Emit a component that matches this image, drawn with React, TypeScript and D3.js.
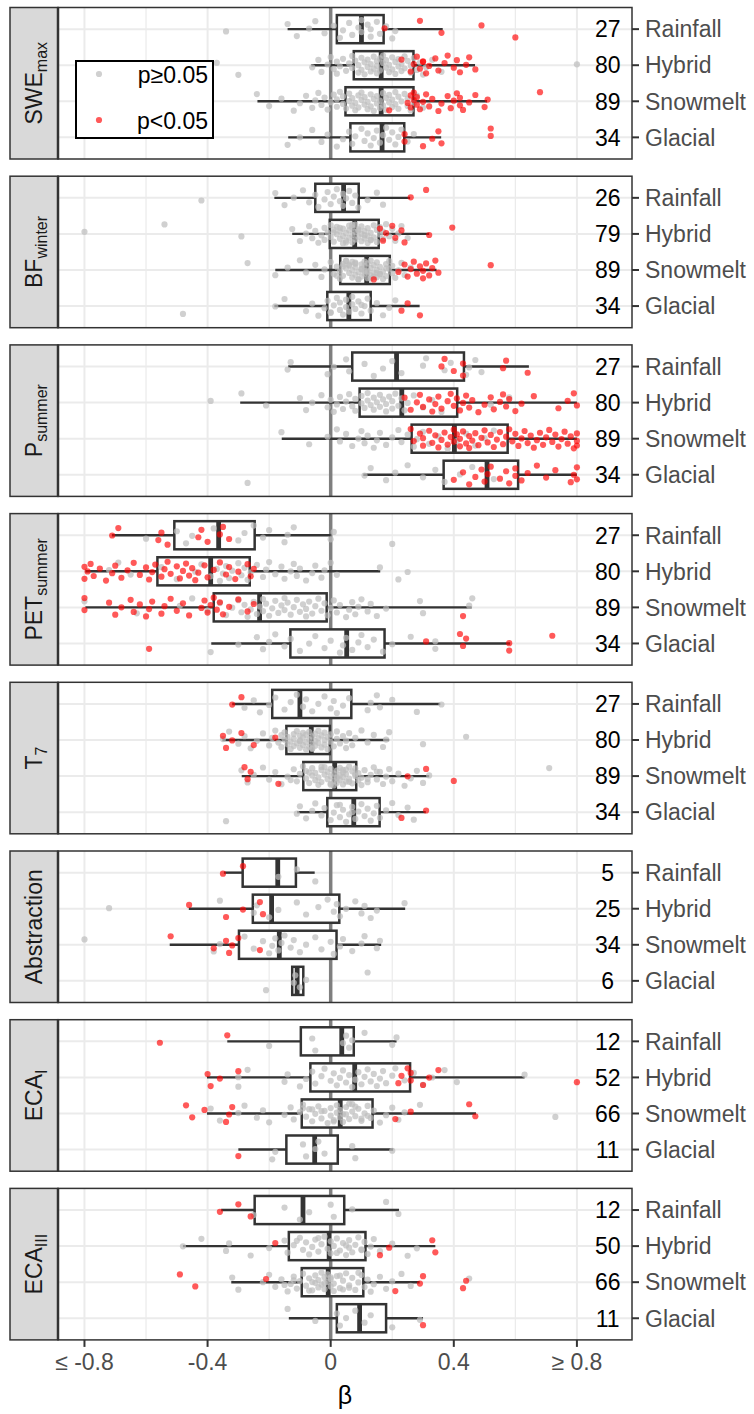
import * as React from "react";
import * as d3 from "d3";

// ---- data ----
const regimes = ["Rainfall", "Hybrid", "Snowmelt", "Glacial"];
const varNames = ["SWE", "BF", "P", "PET", "T", "Abstraction", "ECA", "ECA"];
const varSubs = ["max", "winter", "summer", "summer", "7", "", "I", "III"];
const counts = [
  [27, 80, 89, 34],
  [26, 79, 89, 34],
  [27, 80, 89, 34],
  [27, 80, 89, 34],
  [27, 80, 89, 34],
  [5, 25, 34, 6],
  [12, 52, 66, 11],
  [12, 50, 66, 11],
];
// [whisker low, q1, median, q3, whisker high]
const boxStats = [
  [[-0.14, 0.02, 0.1, 0.172, 0.364], [-0.063, 0.075, 0.164, 0.269, 0.469], [-0.238, 0.048, 0.164, 0.269, 0.508], [-0.138, 0.064, 0.167, 0.239, 0.359]],
  [[-0.183, -0.05, 0.042, 0.091, 0.258], [-0.125, -0.003, 0.078, 0.156, 0.32], [-0.18, 0.031, 0.117, 0.192, 0.344], [-0.183, -0.011, 0.059, 0.13, 0.289]],
  [[-0.138, 0.07, 0.214, 0.433, 0.644], [-0.294, 0.094, 0.231, 0.411, 0.8], [-0.159, 0.263, 0.402, 0.575, 0.8], [0.106, 0.367, 0.508, 0.609, 0.8]],
  [[-0.711, -0.508, -0.364, -0.247, 0.0], [-0.797, -0.563, -0.39, -0.263, 0.161], [-0.797, -0.38, -0.231, -0.013, 0.458], [-0.388, -0.131, 0.052, 0.175, 0.583]],
  [[-0.32, -0.19, -0.1, 0.067, 0.356], [-0.352, -0.144, -0.063, -0.003, 0.19], [-0.289, -0.089, 0.013, 0.083, 0.32], [-0.109, -0.011, 0.075, 0.159, 0.309]],
  [[-0.347, -0.286, -0.172, -0.113, -0.052], [-0.461, -0.253, -0.192, 0.028, 0.242], [-0.523, -0.298, -0.167, 0.019, 0.164], [-0.125, -0.125, -0.109, -0.089, -0.089]],
  [[-0.336, -0.097, 0.036, 0.075, 0.214], [-0.402, -0.066, 0.078, 0.258, 0.63], [-0.402, -0.094, 0.031, 0.136, 0.472], [-0.3, -0.144, -0.052, 0.023, 0.203]],
  [[-0.356, -0.247, -0.09, 0.044, 0.222], [-0.48, -0.136, -0.005, 0.113, 0.34], [-0.323, -0.094, -0.008, 0.106, 0.289], [-0.136, 0.02, 0.094, 0.18, 0.3]],
];

// beta per catchment, p >= 0.05
const greyPts: number[][][] = [
  [
    [-0.34, -0.14, -0.11, -0.07, -0.05, -0.02, 0.01, 0.03, 0.04, 0.06, 0.07, 0.09, 0.1, 0.1, 0.12, 0.13, 0.13, 0.15, 0.16, 0.18, 0.2, 0.21],
    [-0.37, -0.3, -0.06, -0.04, -0.03, -0.01, 0.0, 0.01, 0.02, 0.02, 0.03, 0.04, 0.05, 0.06, 0.07, 0.07, 0.08, 0.09, 0.09, 0.1, 0.1, 0.11, 0.11, 0.12, 0.12, 0.13, 0.13, 0.14, 0.14, 0.15, 0.15, 0.15, 0.16, 0.16, 0.17, 0.17, 0.18, 0.18, 0.19, 0.19, 0.2, 0.2, 0.21, 0.21, 0.22, 0.22, 0.23, 0.23, 0.24, 0.24, 0.25, 0.26, 0.26, 0.27, 0.28, 0.29, 0.3, 0.31, 0.33, 0.36, 0.8],
    [-0.24, -0.2, -0.16, -0.12, -0.1, -0.08, -0.06, -0.05, -0.04, -0.03, -0.02, -0.01, 0.0, 0.01, 0.02, 0.02, 0.03, 0.04, 0.04, 0.05, 0.06, 0.06, 0.07, 0.07, 0.08, 0.08, 0.09, 0.09, 0.1, 0.1, 0.11, 0.11, 0.12, 0.12, 0.13, 0.13, 0.14, 0.14, 0.15, 0.15, 0.16, 0.16, 0.17, 0.17, 0.18, 0.18, 0.19, 0.19, 0.2, 0.2, 0.21, 0.21, 0.22, 0.22, 0.23, 0.24, 0.25, 0.25, 0.26, 0.27, 0.28, 0.3],
    [-0.14, -0.1, -0.06, -0.03, -0.01, 0.02, 0.04, 0.06, 0.07, 0.08, 0.1, 0.11, 0.12, 0.13, 0.14, 0.15, 0.16, 0.17, 0.18, 0.19, 0.2, 0.21, 0.22, 0.23, 0.25, 0.27],
  ],
  [
    [-0.42, -0.18, -0.15, -0.12, -0.09, -0.07, -0.05, -0.04, -0.02, -0.01, 0.0, 0.01, 0.02, 0.03, 0.04, 0.04, 0.05, 0.06, 0.07, 0.08, 0.09, 0.12, 0.15, 0.17],
    [-0.8, -0.54, -0.29, -0.125, -0.1, -0.08, -0.07, -0.06, -0.05, -0.04, -0.03, -0.02, -0.02, -0.01, 0.0, 0.0, 0.01, 0.01, 0.02, 0.02, 0.03, 0.03, 0.04, 0.04, 0.04, 0.05, 0.05, 0.06, 0.06, 0.06, 0.07, 0.07, 0.07, 0.08, 0.08, 0.08, 0.09, 0.09, 0.1, 0.1, 0.1, 0.11, 0.11, 0.12, 0.12, 0.12, 0.13, 0.13, 0.14, 0.14, 0.15, 0.15, 0.16, 0.16, 0.17, 0.17, 0.18, 0.19, 0.2, 0.21, 0.22, 0.23, 0.25, 0.09, 0.05, 0.11, 0.03, 0.13, 0.01, 0.07],
    [-0.27, -0.18, -0.14, -0.1, -0.08, -0.05, -0.03, -0.02, 0.0, 0.01, 0.02, 0.03, 0.03, 0.04, 0.04, 0.05, 0.05, 0.06, 0.06, 0.07, 0.07, 0.08, 0.08, 0.08, 0.09, 0.09, 0.1, 0.1, 0.1, 0.11, 0.11, 0.11, 0.12, 0.12, 0.12, 0.13, 0.13, 0.13, 0.14, 0.14, 0.15, 0.15, 0.15, 0.16, 0.16, 0.17, 0.17, 0.18, 0.18, 0.19, 0.19, 0.2, 0.2, 0.21, 0.22, 0.23, 0.24, 0.26, 0.09, 0.12, 0.06, 0.14, 0.1, 0.07, 0.16, 0.04, 0.13, 0.11, 0.08, 0.02, 0.18, 0.05, 0.15],
    [-0.48, -0.18, -0.15, -0.08, -0.06, -0.04, -0.02, -0.01, 0.0, 0.01, 0.02, 0.03, 0.03, 0.04, 0.05, 0.05, 0.06, 0.07, 0.07, 0.08, 0.09, 0.1, 0.11, 0.12, 0.13, 0.15, 0.17, 0.19, 0.21, 0.0, 0.1],
  ],
  [
    [-0.14, -0.13, -0.01, 0.01, 0.05, 0.06, 0.11, 0.14, 0.17, 0.2, 0.23, 0.3, 0.31, 0.37, 0.39, 0.44, 0.45, 0.47, 0.49],
    [-0.39, -0.29, -0.21, -0.1, -0.08, -0.06, -0.03, -0.01, 0.0, 0.01, 0.02, 0.03, 0.04, 0.05, 0.06, 0.07, 0.08, 0.08, 0.1, 0.1, 0.11, 0.12, 0.12, 0.13, 0.14, 0.14, 0.15, 0.16, 0.16, 0.17, 0.18, 0.18, 0.19, 0.2, 0.2, 0.21, 0.22, 0.23, 0.24, 0.25, 0.27, 0.3, 0.33, 0.36, 0.52, 0.58],
    [-0.16, -0.07, -0.01, 0.02, 0.03, 0.05, 0.07, 0.09, 0.1, 0.11, 0.12, 0.14, 0.15, 0.16, 0.18, 0.2, 0.22, 0.23, 0.25, 0.27, 0.28, 0.3, 0.32, 0.35, 0.38, 0.41, 0.44, 0.47, 0.5, 0.53],
    [-0.27, 0.11, 0.13, 0.18, 0.21, 0.25, 0.3, 0.34, 0.37, 0.42, 0.46, 0.53],
  ],
  [
    [-0.6, -0.5, -0.47, -0.45, -0.38, -0.3, -0.28, -0.25, -0.22, -0.2, -0.15, -0.14, -0.12, 0.0, 0.01, 0.2],
    [-0.72, -0.69, -0.65, -0.55, -0.5, -0.44, -0.42, -0.39, -0.37, -0.36, -0.35, -0.34, -0.33, -0.32, -0.3, -0.29, -0.28, -0.27, -0.26, -0.24, -0.22, -0.21, -0.2, -0.18, -0.16, -0.15, -0.13, -0.12, -0.11, -0.1, -0.08, -0.06, -0.05, -0.03, -0.02, 0.0, 0.02, 0.16, 0.22, 0.25],
    [-0.8, -0.63, -0.49, -0.45, -0.4, -0.36, -0.34, -0.32, -0.3, -0.29, -0.28, -0.27, -0.26, -0.25, -0.24, -0.23, -0.22, -0.22, -0.21, -0.2, -0.19, -0.18, -0.17, -0.16, -0.15, -0.15, -0.14, -0.13, -0.12, -0.11, -0.1, -0.09, -0.08, -0.08, -0.07, -0.06, -0.05, -0.04, -0.03, -0.02, -0.01, 0.0, 0.01, 0.02, 0.03, 0.05, 0.06, 0.07, 0.08, 0.09, 0.1, 0.12, 0.13, 0.15, 0.18, 0.29, 0.3, 0.45, 0.46],
    [-0.39, -0.3, -0.24, -0.22, -0.2, -0.18, -0.15, -0.13, -0.1, -0.07, -0.05, -0.02, 0.0, 0.03, 0.04, 0.05, 0.07, 0.09, 0.1, 0.12, 0.14, 0.17, 0.2, 0.26, 0.34, 0.34],
  ],
  [
    [-0.28, -0.25, -0.23, -0.2, -0.18, -0.15, -0.13, -0.11, -0.09, -0.08, -0.06, -0.04, -0.02, 0.0, 0.01, 0.02, 0.04, 0.06, 0.12, 0.13, 0.15, 0.16, 0.2, 0.28, 0.36],
    [-0.35, -0.33, -0.3, -0.28, -0.26, -0.24, -0.22, -0.2, -0.19, -0.18, -0.17, -0.16, -0.16, -0.15, -0.15, -0.14, -0.14, -0.13, -0.13, -0.12, -0.12, -0.12, -0.11, -0.11, -0.1, -0.1, -0.1, -0.09, -0.09, -0.09, -0.08, -0.08, -0.08, -0.07, -0.07, -0.07, -0.06, -0.06, -0.06, -0.05, -0.05, -0.05, -0.04, -0.04, -0.04, -0.03, -0.03, -0.02, -0.02, -0.02, -0.01, -0.01, 0.0, 0.0, 0.01, 0.02, 0.02, 0.03, 0.04, 0.05, 0.05, 0.06, 0.07, 0.08, 0.1, 0.12, 0.14, 0.17, 0.18, 0.19, 0.3, 0.44, -0.06, -0.1],
    [-0.29, -0.27, -0.25, -0.22, -0.2, -0.18, -0.16, -0.14, -0.12, -0.11, -0.1, -0.09, -0.08, -0.08, -0.07, -0.06, -0.06, -0.05, -0.05, -0.04, -0.04, -0.03, -0.03, -0.02, -0.02, -0.01, -0.01, 0.0, 0.0, 0.0, 0.01, 0.01, 0.01, 0.02, 0.02, 0.02, 0.03, 0.03, 0.03, 0.04, 0.04, 0.04, 0.05, 0.05, 0.05, 0.06, 0.06, 0.07, 0.07, 0.08, 0.08, 0.09, 0.09, 0.1, 0.1, 0.11, 0.12, 0.13, 0.14, 0.15, 0.16, 0.17, 0.18, 0.19, 0.2, 0.22, 0.24, 0.26, 0.28, 0.3, 0.32, 0.71, -0.13, -0.07, 0.0, 0.02, 0.04, 0.06, 0.08, -0.03, 0.12, 0.15],
    [-0.34, -0.11, -0.1, -0.08, -0.06, -0.05, -0.03, -0.02, 0.0, 0.01, 0.02, 0.03, 0.04, 0.05, 0.06, 0.07, 0.08, 0.09, 0.1, 0.11, 0.12, 0.13, 0.14, 0.15, 0.16, 0.18, 0.2, 0.22, 0.25, 0.27, 0.07, 0.03],
  ],
  [
    [-0.17, -0.11, -0.05],
    [-0.72, -0.36, -0.25, -0.24, -0.2, -0.17, -0.11, -0.08, -0.04, -0.01, 0.01, 0.02, 0.03, 0.05, 0.08, 0.1, 0.11, 0.13, 0.15, 0.24],
    [-0.8, -0.38, -0.36, -0.28, -0.25, -0.22, -0.2, -0.19, -0.18, -0.17, -0.16, -0.15, -0.13, -0.12, -0.1, -0.08, -0.05, -0.03, 0.0, 0.01, 0.03, 0.04, 0.07, 0.1, 0.11, 0.15, 0.16],
    [-0.21, -0.12, -0.115, -0.1, -0.08, 0.12],
  ],
  [
    [-0.2, -0.06, -0.05, 0.04, 0.05, 0.06, 0.07, 0.11, 0.2, 0.214],
    [-0.3, -0.27, -0.15, -0.14, -0.1, -0.08, -0.06, -0.05, -0.03, -0.02, 0.0, 0.01, 0.02, 0.03, 0.04, 0.05, 0.06, 0.07, 0.08, 0.09, 0.1, 0.11, 0.12, 0.13, 0.14, 0.15, 0.16, 0.17, 0.18, 0.2, 0.21, 0.24, 0.27, 0.3, 0.33, 0.37, 0.41, 0.63, -0.3],
    [-0.39, -0.36, -0.3, -0.28, -0.24, -0.22, -0.2, -0.15, -0.13, -0.12, -0.1, -0.09, -0.08, -0.07, -0.06, -0.05, -0.04, -0.03, -0.02, -0.01, 0.0, 0.0, 0.01, 0.02, 0.02, 0.03, 0.03, 0.04, 0.05, 0.05, 0.06, 0.07, 0.07, 0.08, 0.09, 0.1, 0.11, 0.12, 0.13, 0.14, 0.16, 0.18, 0.2, 0.22, 0.24, 0.29, 0.73, -0.06, 0.01, 0.04, 0.08, 0.1, -0.03, 0.06, 0.12, -0.09],
    [-0.19, -0.18, -0.09, -0.08, -0.05, -0.04, -0.02, 0.07, 0.08, 0.2],
  ],
  [
    [-0.25, -0.15, -0.1, -0.07, 0.0, 0.01, 0.07, 0.18, 0.22],
    [-0.48, -0.42, -0.34, -0.33, -0.26, -0.2, -0.15, -0.14, -0.12, -0.1, -0.09, -0.08, -0.07, -0.06, -0.05, -0.04, -0.03, -0.02, -0.01, 0.0, 0.0, 0.01, 0.02, 0.03, 0.04, 0.05, 0.06, 0.06, 0.07, 0.08, 0.09, 0.1, 0.11, 0.12, 0.13, 0.14, 0.16, 0.2, 0.25, 0.28, -0.11, 0.02, 0.05, -0.04, 0.1],
    [-0.32, -0.3, -0.22, -0.2, -0.18, -0.16, -0.14, -0.13, -0.12, -0.11, -0.1, -0.09, -0.08, -0.07, -0.06, -0.05, -0.05, -0.04, -0.04, -0.03, -0.03, -0.02, -0.02, -0.01, -0.01, 0.0, 0.0, 0.01, 0.01, 0.02, 0.03, 0.04, 0.05, 0.06, 0.07, 0.08, 0.09, 0.1, 0.11, 0.12, 0.13, 0.14, 0.16, 0.18, 0.2, 0.23, 0.26, 0.45, -0.07, -0.02, 0.03, 0.06, -0.12, 0.09, -0.15, 0.0, 0.04, -0.06],
    [-0.14, -0.05, 0.02, 0.03, 0.05, 0.08, 0.11, 0.13, 0.2, 0.29],
  ],
];

// beta per catchment, p < 0.05
const redPts: number[][][] = [
  [
    [0.175, 0.29, 0.36, 0.49, 0.6],
    [0.23, 0.26, 0.27, 0.28, 0.29, 0.3, 0.31, 0.32, 0.34, 0.35, 0.37, 0.38, 0.4, 0.41, 0.42, 0.44, 0.45, 0.47, 0.3],
    [0.19, 0.25, 0.26, 0.26, 0.27, 0.27, 0.28, 0.28, 0.29, 0.3, 0.31, 0.32, 0.33, 0.35, 0.36, 0.38, 0.39, 0.4, 0.41, 0.42, 0.42, 0.43, 0.45, 0.47, 0.5, 0.51, 0.68],
    [0.24, 0.24, 0.3, 0.33, 0.35, 0.36, 0.52, 0.52],
  ],
  [
    [0.26, 0.31],
    [0.16, 0.17, 0.18, 0.2, 0.21, 0.23, 0.24, 0.32, 0.395],
    [0.14, 0.22, 0.24, 0.25, 0.26, 0.27, 0.28, 0.29, 0.3, 0.3, 0.31, 0.32, 0.33, 0.34, 0.35, 0.52],
    [0.23, 0.25, 0.29],
  ],
  [
    [0.36, 0.37, 0.4, 0.43, 0.43, 0.56, 0.57, 0.64],
    [0.24, 0.26, 0.28, 0.29, 0.3, 0.32, 0.33, 0.34, 0.35, 0.36, 0.38, 0.39, 0.4, 0.41, 0.42, 0.43, 0.44, 0.45, 0.46, 0.48, 0.5, 0.52, 0.53, 0.55, 0.56, 0.57, 0.58, 0.6, 0.62, 0.66, 0.74, 0.77, 0.79, 0.8],
    [0.26, 0.27, 0.29, 0.3, 0.3, 0.32, 0.33, 0.34, 0.35, 0.36, 0.37, 0.38, 0.39, 0.4, 0.4, 0.41, 0.42, 0.42, 0.43, 0.44, 0.45, 0.45, 0.46, 0.47, 0.48, 0.49, 0.5, 0.51, 0.52, 0.53, 0.54, 0.55, 0.56, 0.57, 0.58, 0.59, 0.6, 0.61, 0.62, 0.63, 0.64, 0.65, 0.66, 0.67, 0.68, 0.69, 0.7, 0.71, 0.72, 0.73, 0.74, 0.75, 0.76, 0.77, 0.78, 0.79, 0.8, 0.8, 0.8],
    [0.4, 0.43, 0.45, 0.47, 0.49, 0.5, 0.51, 0.52, 0.55, 0.57, 0.58, 0.6, 0.6, 0.62, 0.64, 0.67, 0.7, 0.73, 0.78, 0.79, 0.8, 0.8],
  ],
  [
    [-0.71, -0.69, -0.56, -0.55, -0.53, -0.43, -0.42, -0.4, -0.36, -0.35, -0.33],
    [-0.8, -0.8, -0.79, -0.78, -0.77, -0.75, -0.73, -0.71, -0.7, -0.68, -0.66, -0.64, -0.62, -0.6, -0.59, -0.58, -0.57, -0.55, -0.54, -0.53, -0.52, -0.5, -0.49, -0.48, -0.47, -0.46, -0.45, -0.44, -0.43, -0.41, -0.4, -0.38, -0.36, -0.34, -0.33, -0.31, -0.3, -0.27, -0.26, -0.25],
    [-0.8, -0.8, -0.72, -0.7, -0.68, -0.65, -0.64, -0.62, -0.6, -0.59, -0.58, -0.55, -0.54, -0.52, -0.5, -0.48, -0.46, -0.42, -0.41, -0.4, -0.39, -0.38, -0.37, -0.36, -0.35, -0.33, -0.3, -0.27, -0.25, 0.43],
    [-0.59, 0.31, 0.42, 0.43, 0.44, 0.58, 0.58, 0.72],
  ],
  [
    [-0.32, -0.29],
    [-0.35, -0.34, -0.32, -0.29, -0.25, -0.18],
    [-0.28, -0.27, -0.26, -0.17, 0.25, 0.31, 0.4],
    [0.23, 0.31],
  ],
  [
    [-0.35, -0.285],
    [-0.46, -0.34, -0.285, -0.23, -0.22],
    [-0.52, -0.38, -0.34, -0.33, -0.32, -0.3, -0.23],
    [],
  ],
  [
    [-0.555, -0.336],
    [-0.4, -0.39, -0.36, -0.3, 0.22, 0.23, 0.25, 0.26, 0.26, 0.3, 0.32, 0.35, 0.8],
    [-0.47, -0.45, -0.41, -0.34, -0.33, -0.32, 0.21, 0.26, 0.45, 0.47],
    [-0.3],
  ],
  [
    [-0.36, -0.3, -0.26],
    [-0.18, 0.16, 0.19, 0.33, 0.34],
    [-0.49, -0.44, -0.21, 0.21, 0.29, 0.3, 0.43, 0.44],
    [0.3],
  ],
];

const xTickValues = [-0.8, -0.4, 0, 0.4, 0.8];
const xTickLabels = ["≤ -0.8", "-0.4", "0", "0.4", "≥ 0.8"];
const xMinorValues = [-0.6, -0.2, 0.2, 0.6];

// ---- layout ----
const W = 754;
const H = 1414;
const FONT = "Liberation Sans, Arial, Helvetica, sans-serif";
const stripX0 = 10;
const panelX0 = 58;
const panelX1 = 632;
const panelTop0 = 7.5;
const panelStep = 168.7;
const panelH = 151.5;

const x = d3.scaleLinear().domain([-0.886, 0.979]).range([panelX0, panelX1]);
const y = d3.scalePoint<string>().domain(regimes).range([0, panelH]).padding(0.6);
const step = y.step();
const boxH = step * 0.78;
const ptR = 3.1;

// deterministic vertical jitter for the points
const jitter = (i: number, seed: number) => {
  const v = ((i + 1) * 0.6180339887 + seed * 0.7548776662) % 1;
  return (v - 0.5) * 2 * step * 0.27;
};

const Panel = ({ p }: { p: number }) => {
  const top = panelTop0 + p * panelStep;
  const cy = (r: string) => top + (y(r) as number);
  return (
    <g>
      <rect x={panelX0} y={top} width={panelX1 - panelX0} height={panelH} fill="#fff" />
      {xMinorValues.map((v) => (
        <line key={"mi" + v} x1={x(v)} x2={x(v)} y1={top} y2={top + panelH} stroke="#ebebeb" strokeWidth={1.2} />
      ))}
      {xTickValues.map((v) => (
        <line key={"ma" + v} x1={x(v)} x2={x(v)} y1={top} y2={top + panelH} stroke="#ebebeb" strokeWidth={2} />
      ))}
      {regimes.map((r) => (
        <line key={"h" + r} x1={panelX0} x2={panelX1} y1={cy(r)} y2={cy(r)} stroke="#ebebeb" strokeWidth={2} />
      ))}
      <line x1={x(0)} x2={x(0)} y1={top} y2={top + panelH} stroke="#7f7f7f" strokeWidth={3.5} />

      {regimes.map((r, ri) => {
        const [lo, q1, med, q3, hi] = boxStats[p][ri];
        const c = cy(r);
        return (
          <g key={"b" + r} stroke="#333" fill="none">
            <line x1={x(lo)} x2={x(q1)} y1={c} y2={c} strokeWidth={2.4} />
            <line x1={x(q3)} x2={x(hi)} y1={c} y2={c} strokeWidth={2.4} />
            <rect x={x(q1)} y={c - boxH / 2} width={x(q3) - x(q1)} height={boxH} fill="#fff" strokeWidth={2.5} />
            <line x1={x(med)} x2={x(med)} y1={c - boxH / 2} y2={c + boxH / 2} strokeWidth={4.8} />
          </g>
        );
      })}

      {regimes.map((r, ri) =>
        greyPts[p][ri].map((v, i) => (
          <circle key={"g" + r + i} cx={x(v)} cy={cy(r) + jitter(i, p * 4 + ri)} r={ptR} fill="#bebebe" fillOpacity={0.72} />
        ))
      )}
      {regimes.map((r, ri) =>
        redPts[p][ri].map((v, i) => (
          <circle key={"r" + r + i} cx={x(v)} cy={cy(r) + jitter(i + 7, p * 4 + ri + 2)} r={ptR} fill="#ff0000" fillOpacity={0.65} />
        ))
      )}

      {regimes.map((r, ri) => (
        <text key={"n" + r} x={x(0.9)} y={cy(r)} dy="0.36em" textAnchor="middle" fontSize={23} fill="#000" fontFamily={FONT}>
          {counts[p][ri]}
        </text>
      ))}

      {/* right axis */}
      {regimes.map((r) => (
        <g key={"t" + r}>
          <line x1={panelX1} x2={panelX1 + 7} y1={cy(r)} y2={cy(r)} stroke="#333" strokeWidth={2} />
          <text x={panelX1 + 13} y={cy(r)} dy="0.36em" fontSize={23} fill="#4d4d4d" fontFamily={FONT}>
            {r}
          </text>
        </g>
      ))}

      <rect x={panelX0} y={top} width={panelX1 - panelX0} height={panelH} fill="none" stroke="#333" strokeWidth={1.5} />

      {/* strip */}
      <rect x={stripX0} y={top} width={panelX0 - stripX0} height={panelH} fill="#d9d9d9" stroke="#333" strokeWidth={1.5} />
      <line x1={panelX0} x2={panelX0} y1={top} y2={top + panelH} stroke="#333" strokeWidth={2.5} />
      <text
        transform={`translate(42,${top + panelH / 2}) rotate(-90)`}
        textAnchor="middle"
        fontSize={23}
        fill="#1a1a1a"
        fontFamily={FONT}
      >
        {varNames[p]}
        {varSubs[p] && (
          <tspan fontSize={16} dy={5}>
            {varSubs[p]}
          </tspan>
        )}
      </text>
    </g>
  );
};

export default function App() {
  const lastBottom = panelTop0 + 7 * panelStep + panelH;
  return (
    <svg width={W} height={H} style={{ position: "absolute", left: 0, top: 0, background: "#fff" }}>
      <rect width={W} height={H} fill="#fff" />
      {varNames.map((_, p) => (
        <Panel key={p} p={p} />
      ))}

      {/* legend */}
      <g fontFamily={FONT} fontSize={23}>
        <rect x={76} y={61} width={137} height={77} fill="#fff" stroke="#000" strokeWidth={2} />
        <circle cx={99} cy={74} r={ptR} fill="#bebebe" fillOpacity={0.72} />
        <text x={208} y={83} textAnchor="end" fill="#000">p≥0.05</text>
        <circle cx={99} cy={120} r={ptR} fill="#ff0000" fillOpacity={0.65} />
        <text x={208} y={129} textAnchor="end" fill="#000">p&lt;0.05</text>
      </g>

      {/* bottom axis */}
      {xTickValues.map((v, i) => (
        <g key={"xt" + v}>
          <line x1={x(v)} x2={x(v)} y1={lastBottom} y2={lastBottom + 7} stroke="#333" strokeWidth={2} />
          <text x={x(v)} y={lastBottom + 30} textAnchor="middle" fontSize={23} fill="#4d4d4d" fontFamily={FONT}>
            {xTickLabels[i]}
          </text>
        </g>
      ))}
      <text x={(panelX0 + panelX1) / 2} y={lastBottom + 64} textAnchor="middle" fontSize={25} fill="#000" fontFamily={FONT}>
        β
      </text>
    </svg>
  );
}
